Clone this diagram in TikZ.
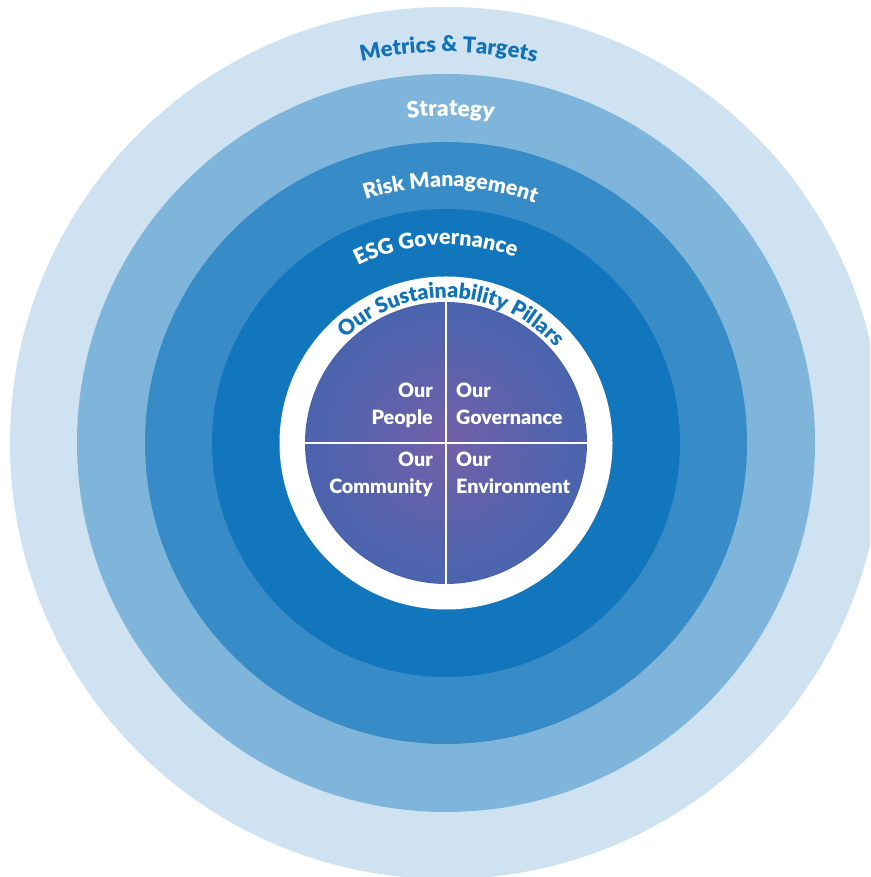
\documentclass[tikz,border=0pt]{standalone}
\usepackage{fontspec}
\setmainfont{Lato}[BoldFont={Lato Black}]
\usetikzlibrary{decorations.text}
\definecolor{ringA}{HTML}{CEE2F1}
\definecolor{ringB}{HTML}{7FB5DB}
\definecolor{ringC}{HTML}{378CC7}
\definecolor{ringD}{HTML}{1276BD}
\definecolor{labelblue}{HTML}{1272B9}
\definecolor{pcenter}{HTML}{7260A8}
\definecolor{pmid}{HTML}{4E63AE}
\definecolor{pedge}{HTML}{3367B2}
\pgfdeclareradialshading{pillarshade}{\pgfpoint{0bp}{0bp}}{color(0bp)=(pcenter); color(22bp)=(pmid); color(50bp)=(pedge); color(100bp)=(pedge)}
\begin{document}
\begin{tikzpicture}[x=1pt,y=1pt,
  ringtext/.style={decorate, decoration={text along path, text align=center, text color=#1}},
  pillartext/.style={text=white, inner sep=0pt, font=\fontsize{19.7}{27}\selectfont\bfseries}]
\useasboundingbox (0,0) rectangle (870,877);
\clip (0,0) rectangle (870,877);
\coordinate (C) at (446,434);
\fill[ringA] (C) circle[radius=436];
\fill[ringB] (C) circle[radius=369];
\fill[ringC] (C) circle[radius=301];
\fill[ringD] (C) circle[radius=234];
\fill[white] (C) circle[radius=166.5];
\shade[shading=pillarshade] (C) circle[radius=141];
\path (C) ++(0,141) coordinate (ptop) (C) ++(0,-141) coordinate (pbot)
      (C) ++(-141,0) coordinate (pleft) (C) ++(141,0) coordinate (pright);
\draw[white, line width=2] (ptop) -- (pbot);
\draw[white, line width=2] (pleft) -- (pright);
% ring labels
\path[ringtext=labelblue, decoration={text={|\fontsize{21.8}{21.8}\selectfont\bfseries|Metrics {\&} Targets}}]
  (C) ++(149.6:391) arc[start angle=149.6, end angle=29.6, radius=391];
\path[ringtext=white, decoration={text={|\fontsize{22.5}{22.5}\selectfont\bfseries|Strategy}}]
  (C) ++(149.2:327) arc[start angle=149.2, end angle=29.2, radius=327];
\path[ringtext=white, decoration={text={|\fontsize{21.2}{21.2}\selectfont\bfseries|Risk Management}}]
  (C) ++(149:256) arc[start angle=149, end angle=29, radius=256];
\path[ringtext=white, decoration={text={|\fontsize{21.5}{21.5}\selectfont\bfseries|ESG Governance}}]
  (C) ++(153:198) arc[start angle=153, end angle=33, radius=198];
\path[ringtext=labelblue, decoration={text={|\fontsize{21.2}{21.2}\selectfont\bfseries|Our Sustainability Pillars}}]
  (C) ++(157.5:145) arc[start angle=157.5, end angle=17.5, radius=145];
% pillars
\node[pillartext, anchor=base east, align=right] (people) at (433,452) {Our\\People};
\node[pillartext, anchor=base west, align=left] (gov) at (456,452) {Our\\Governance};
\node[pillartext, anchor=base east, align=right] (comm) at (433,383) {Our\\Community};
\node[pillartext, anchor=base west, align=left] (env) at (456,383) {Our\\Environment};
\end{tikzpicture}
\end{document}
